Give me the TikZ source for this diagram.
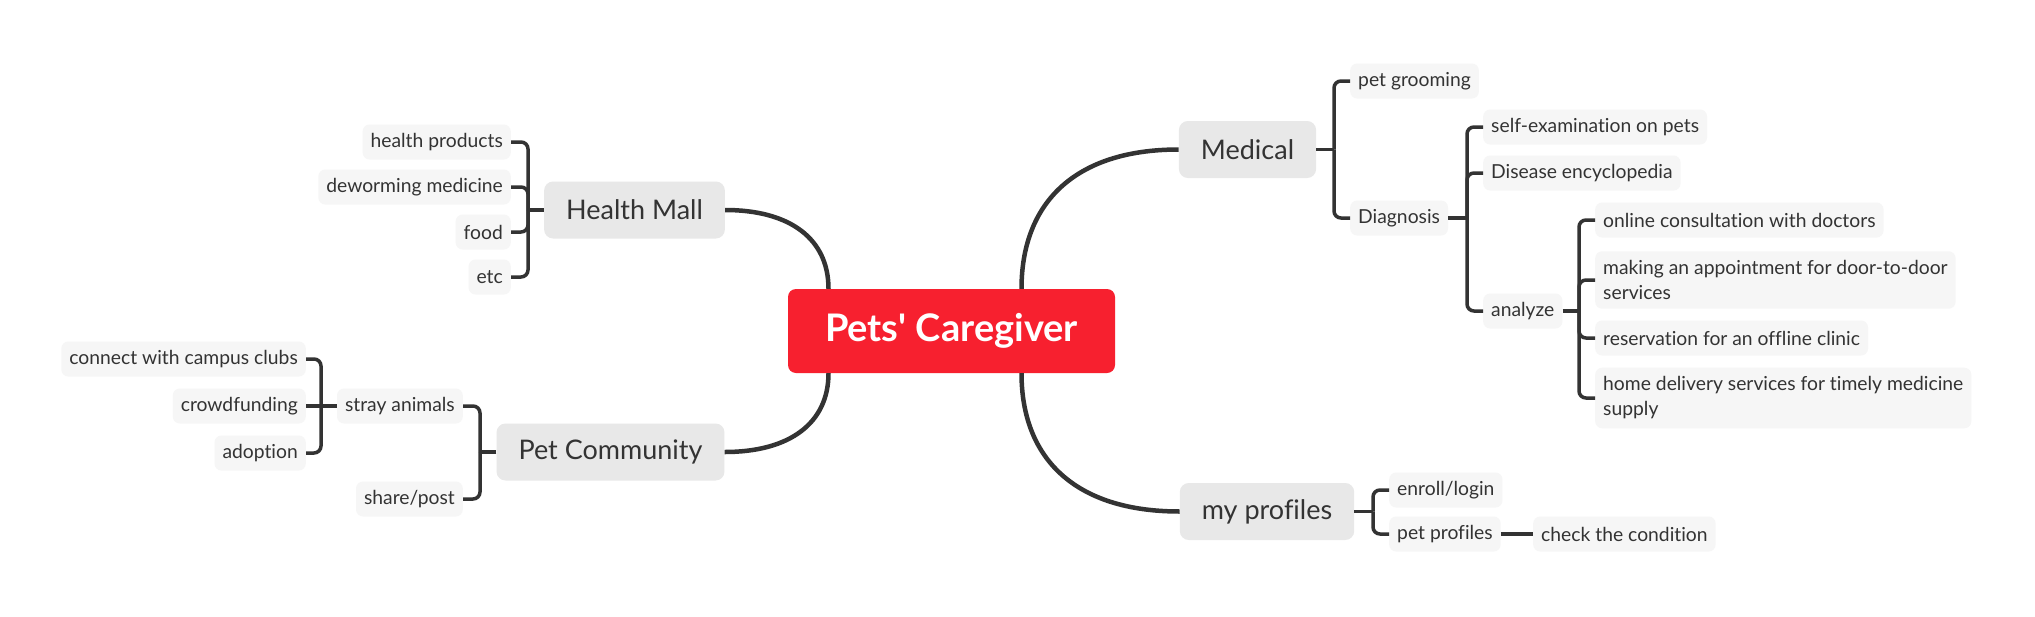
\documentclass[tikz,border=0pt]{standalone}
\usepackage{fontspec}
\setmainfont{Lato}[Ligatures={TeXOff,NoCommon}]
\definecolor{linegray}{HTML}{333333}
\definecolor{textgray}{HTML}{333333}
\definecolor{topicgray}{HTML}{E8E8E8}
\definecolor{leafgray}{HTML}{F6F6F6}
\definecolor{rootred}{HTML}{F7202F}
\begin{document}
\begin{tikzpicture}[x=1pt,y=-1pt,
  root/.style={rectangle,fill=rootred,rounded corners=8pt,text=white,
               font=\fontsize{38}{44}\selectfont\bfseries,
               minimum width=327pt,minimum height=84pt},
  topic/.style={rectangle,fill=topicgray,rounded corners=9pt,text=textgray,
                font=\fontsize{27}{32}\selectfont,inner xsep=22pt,minimum height=57pt},
  leaf/.style={rectangle,fill=leafgray,rounded corners=7pt,text=textgray,
               font=\fontsize{19.3}{25}\selectfont,inner xsep=8pt,
               minimum height=35pt,align=left},
  leaftwo/.style={leaf,inner ysep=9pt},
  branch/.style={draw=linegray,line width=4.5pt},
  bracket/.style={draw=linegray,line width=3.5pt,rounded corners=7pt},
]
  \useasboundingbox[fill=white] (0,0) rectangle (2035,616);

  % Central topic
  \node[root] (root) at (951.5,331) {Pets' Caregiver};

  % Main topics
  \node[topic] (hm) at (634.5,210) {Health Mall};
  \node[topic] (pc) at (610.5,452) {Pet Community};
  \node[topic] (med) at (1247.5,149.5) {Medical};
  \node[topic] (mp) at (1267,511.5) {my profiles};

  % Branches from the centre
  \draw[branch] ([xshift=-123pt]root.north) .. controls +(0,-50) and +(65,0) .. (hm.east);
  \draw[branch] ([xshift=-123pt]root.south) .. controls +(0,50) and +(65,0) .. (pc.east);
  \draw[branch] ([xshift=70pt]root.north) .. controls +(0,-85) and +(-105,0) .. (med.west);
  \draw[branch] ([xshift=70pt]root.south) .. controls +(0,85) and +(-105,0) .. (mp.west);

  % Health Mall
  \node[leaf,anchor=east] (hp) at (511,142) {health products};
  \node[leaf,anchor=east] (dw) at (511,187) {deworming medicine};
  \node[leaf,anchor=east] (fd) at (511,232) {food};
  \node[leaf,anchor=east] (hmetc) at (511,277) {etc};
  \coordinate (hmb) at (528,210);
  \draw[bracket] (hm.west) -- (hmb);
  \foreach \n in {hp,dw,fd,hmetc} \draw[bracket] (hmb) |- (\n.east);

  % Pet Community
  \node[leaf,anchor=east] (sa) at (463,406) {stray animals};
  \node[leaf,anchor=east] (sp) at (463,499) {share/post};
  \coordinate (pcb) at (480,452);
  \draw[bracket] (pc.west) -- (pcb);
  \foreach \n in {sa,sp} \draw[bracket] (pcb) |- (\n.east);

  \node[leaf,anchor=east] (cc) at (306,359) {connect with campus clubs};
  \node[leaf,anchor=east] (cf) at (306,406) {crowdfunding};
  \node[leaf,anchor=east] (ad) at (306,453) {adoption};
  \coordinate (sab) at (321,406);
  \draw[bracket] (sa.west) -- (cf.east);
  \foreach \n in {cc,ad} \draw[bracket] (sab) |- (\n.east);

  % Medical
  \node[leaf,anchor=west] (pg) at (1350,81) {pet grooming};
  \node[leaf,anchor=west] (dg) at (1350,218) {Diagnosis};
  \coordinate (medb) at (1334,149.5);
  \draw[bracket] (med.east) -- (medb);
  \foreach \n in {pg,dg} \draw[bracket] (medb) |- (\n.west);

  \node[leaf,anchor=west] (se) at (1483,127) {self-examination on pets};
  \node[leaf,anchor=west] (de) at (1483,173) {Disease encyclopedia};
  \node[leaf,anchor=west] (an) at (1483,311) {analyze};
  \coordinate (dgb) at (1467,218);
  \draw[bracket] (dg.east) -- (dgb);
  \foreach \n in {se,de,an} \draw[bracket] (dgb) |- (\n.west);

  \node[leaf,anchor=west] (oc) at (1595,220) {online consultation with doctors};
  \node[leaftwo,anchor=west] (ma) at (1595,280) {making an appointment for door-to-door\\services};
  \node[leaf,anchor=west] (ro) at (1595,338) {reservation for an offline clinic};
  \node[leaftwo,anchor=west] (hd) at (1595,398) {home delivery services for timely medicine\\supply};
  \coordinate (anb) at (1579,311);
  \draw[bracket] (an.east) -- (anb);
  \foreach \n in {oc,ma,ro,hd} \draw[bracket] (anb) |- (\n.west);

  % my profiles
  \node[leaf,anchor=west] (el) at (1389,490) {enroll/login};
  \node[leaf,anchor=west] (pp) at (1389,534) {pet profiles};
  \node[leaf,anchor=west] (ck) at (1533,534) {check the condition};
  \coordinate (mpb) at (1373,511.5);
  \draw[bracket] (mp.east) -- (mpb);
  \foreach \n in {el,pp} \draw[bracket] (mpb) |- (\n.west);
  \draw[bracket] (pp.east) -- (ck.west);
\end{tikzpicture}
\end{document}
